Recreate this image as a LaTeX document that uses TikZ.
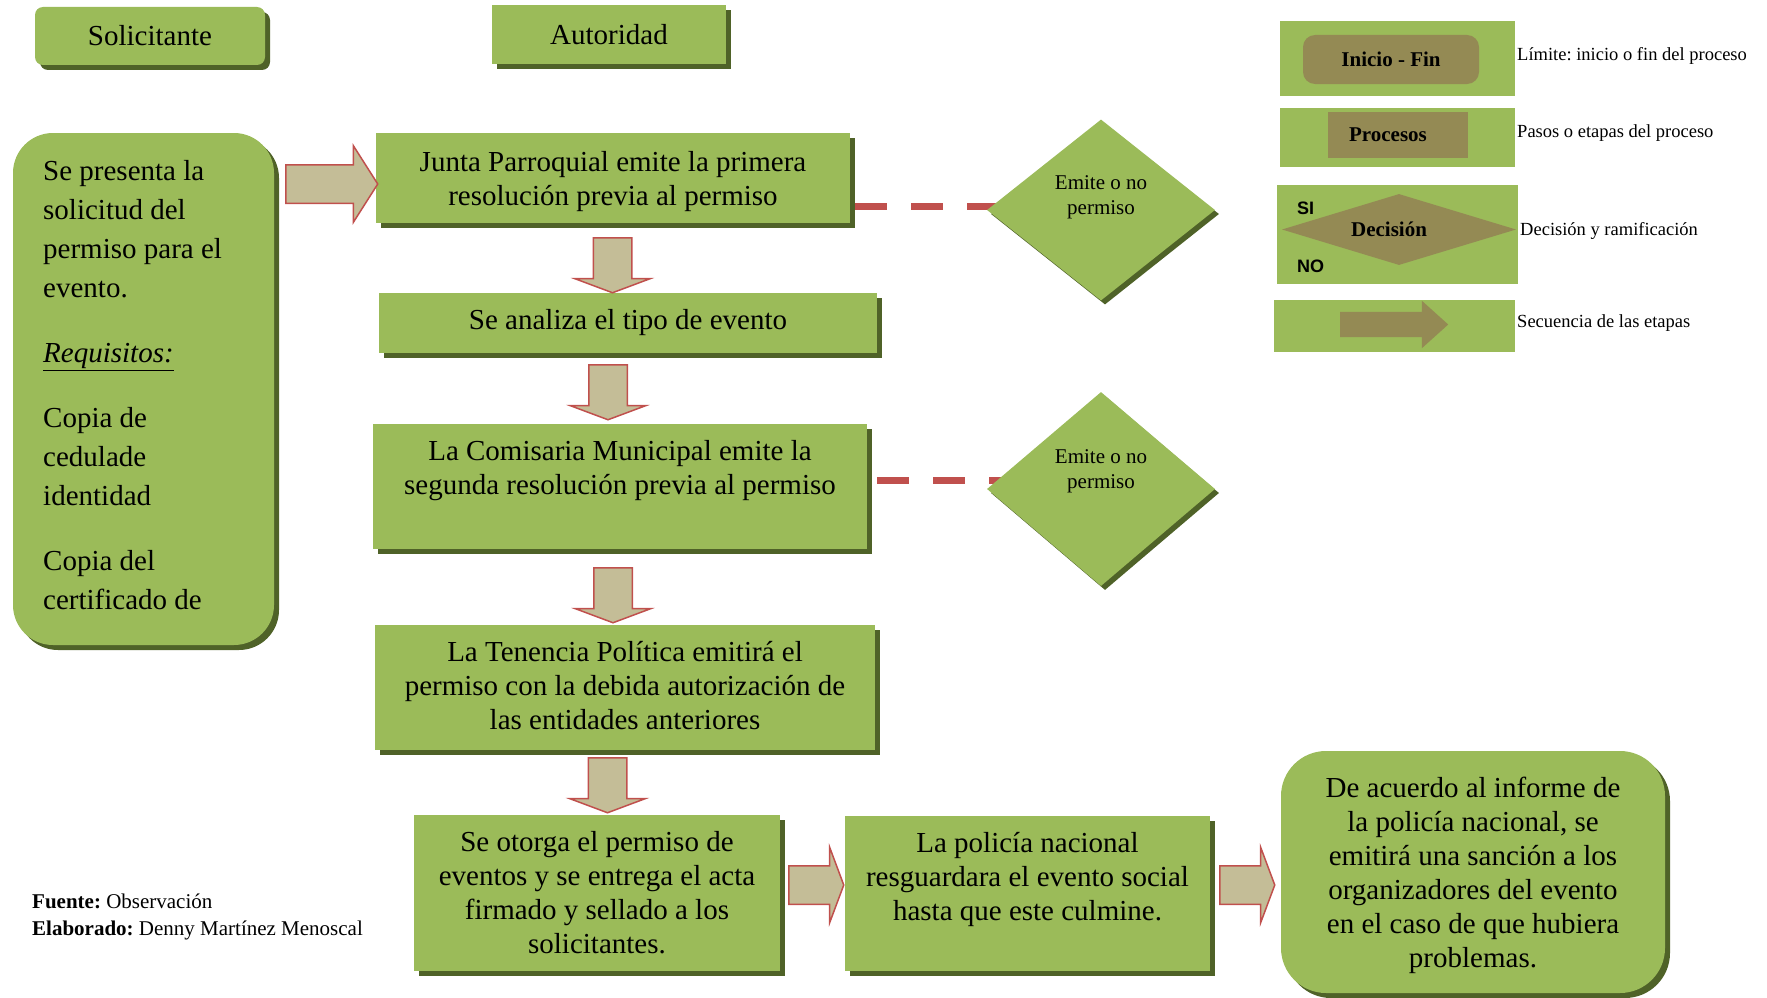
\documentclass[tikz,border=0pt]{standalone}
\usepackage{fontspec}
\setmainfont{Liberation Serif}
\newfontfamily\legendsans{Liberation Sans}
\usetikzlibrary{shapes.geometric,shapes.arrows,shadows}
\definecolor{boxgreen}{HTML}{9BBB59}
\definecolor{shadowgreen}{HTML}{4F6228}
\definecolor{arrowtan}{HTML}{C4BD97}
\definecolor{arrowred}{HTML}{C0504D}
\definecolor{olivekey}{HTML}{948A54}
\pgfdeclarelayer{bg}
\pgfsetlayers{bg,main}
\frenchspacing

\begin{document}
\begin{tikzpicture}[x=1pt, y=-1pt,
  boxtext/.style={font=\fontsize{29}{34}\selectfont, align=center, inner sep=0pt},
  box/.style={boxtext, fill=boxgreen,
    general shadow={shadow xshift=5pt, shadow yshift=-5pt, fill=shadowgreen}},
  roundbox/.style={box, rounded corners=#1},
  decision/.style={diamond, fill=boxgreen, inner sep=0pt,
    general shadow={shadow xshift=4pt, shadow yshift=-4pt, fill=shadowgreen}},
  dectext/.style={font=\fontsize{21}{25}\selectfont, align=center, inner sep=0pt},
  stepar/.style={single arrow, fill=arrowtan, draw=arrowred, line width=1.5pt,
    inner xsep=0pt, inner ysep=18.5pt, minimum width=74pt, single arrow head extend=18.5pt,
    single arrow tip angle=139, minimum height=55pt, anchor=tail},
  stepdown/.style={stepar, rotate=-90},
  link/.style={draw=arrowred, line width=7pt, dash pattern=on 32pt off 24pt},
  keybox/.style={fill=boxgreen, inner sep=0pt},
  keyshape/.style={fill=olivekey, inner sep=0pt, font=\fontsize{21}{25}\selectfont\bfseries},
  keytext/.style={font=\fontsize{18.5}{22}\selectfont, anchor=west, inner sep=0pt},
  keysans/.style={font=\legendsans\fontsize{18}{20}\selectfont\bfseries, anchor=west, inner sep=0pt},
  note/.style={font=\fontsize{21}{27}\selectfont, anchor=base west, inner sep=0pt}]
\useasboundingbox (0,0) rectangle (1767,998);

\node[roundbox=8pt, minimum width=230pt, minimum height=58pt] (solicitante) at (150,36) {Solicitante};
\node[box, minimum width=234pt, minimum height=59pt] (autoridad) at (609,35) {Autoridad};

\node[roundbox=40pt, minimum width=261pt, minimum height=512pt] (solicitud) at (143.5,389) {};
\node[font=\fontsize{29}{39}\selectfont, align=left, anchor=north west, inner sep=0pt]
  (requisitos) at (43,160) {Se presenta la\\solicitud del\\permiso para el\\evento.\\[26pt]\underline{\textit{Requisitos:}}\\[26pt]Copia de\\cedulade\\identidad\\[26pt]Copia del\\certificado de};

\node[box, minimum width=474pt, minimum height=90pt] (junta) at (613,178) {};
\node[boxtext] (juntatext) at ([yshift=-4pt]junta.center) {Junta Parroquial emite la primera\\resolución previa al permiso};
\node[box, minimum width=498pt, minimum height=60pt] (analiza) at (628,323) {Se analiza el tipo de evento};
\node[box, minimum width=494pt, minimum height=125pt] (comisaria) at (620,486.5) {};
\node[boxtext] (comisariatext) at ([yshift=16pt]comisaria.center) {La Comisaria Municipal emite la\\segunda resolución previa al permiso};
\node[box, minimum width=500pt, minimum height=125pt] (tenencia) at (625,687.5) {};
\node[boxtext] (tenenciatext) at ([yshift=2pt]tenencia.center) {La Tenencia Política emitirá el\\permiso con la debida autorización de\\las entidades anteriores};
\node[box, minimum width=366pt, minimum height=156pt] (otorga) at (597,893) {Se otorga el permiso de\\eventos y se entrega el acta\\firmado y sellado a los\\solicitantes.};
\node[box, minimum width=365pt, minimum height=155pt] (policia) at (1027.5,893.5) {};
\node[boxtext] (policiatext) at ([yshift=14pt]policia.center) {La policía nacional\\resguardara el evento social\\hasta que este culmine.};
\node[roundbox=45pt, minimum width=384pt, minimum height=242pt] (sancion) at (1473,872) {};
\node[boxtext] (sanciontext) at ([yshift=-3pt]sancion.center) {De acuerdo al informe de\\la policía nacional, se\\emitirá una sanción a los\\organizadores del evento\\en el caso de que hubiera\\problemas.};

\node[decision, minimum width=228pt, minimum height=181pt] (emite1) at (1101,210) {};
\node[dectext] (emite1text) at ([yshift=13pt]emite1.center) {Emite o no\\permiso};
\node[decision, minimum width=228pt, minimum height=194pt] (emite2) at (1101,489) {};
\node[dectext] (emite2text) at ([yshift=18pt]emite2.center) {Emite o no\\permiso};

\begin{pgfonlayer}{bg}
\draw[link] ([xshift=5pt, yshift=4pt]junta.east |- emite1.west) -- ([yshift=4pt]emite1.center |- emite1.west);
\draw[link] ([xshift=10pt, yshift=9pt]comisaria.east |- emite2.west) -- ([yshift=9pt]emite2.center |- emite2.west);
\end{pgfonlayer}

\node[stepar, inner ysep=18.5pt, minimum width=75pt, single arrow head extend=19pt, single arrow tip angle=115, minimum height=92pt] (entrada) at (285,184) {};
\node[stepdown] (paso1) at (612.5,237) {};
\node[stepdown] (paso2) at (608,364) {};
\node[stepdown] (paso3) at (613,567) {};
\node[stepdown] (paso4) at (607.5,757) {};
\node[stepar] (paso5) at (788,885) {};
\node[stepar] (paso6) at (1219,885) {};

\node[keybox, minimum width=235pt, minimum height=75pt] (keylimite) at (1397.5,58.5) {};
\node[keyshape, rounded corners=12pt, minimum width=176pt, minimum height=49pt] (keyinicio) at (1391,59.5) {Inicio - Fin};
\node[keytext] (limite) at (1517,56) {Límite: inicio o fin del proceso};

\node[keybox, minimum width=235pt, minimum height=59pt] (keypasos) at (1397.5,137.5) {};
\node[keyshape, minimum width=140pt, minimum height=46pt] (keyprocesos) at (1398,135) {Procesos\hspace*{20pt}};
\node[keytext] (pasos) at (1517,133) {Pasos o etapas del proceso};

\node[keybox, minimum width=241pt, minimum height=99pt] (keydecision) at (1397.5,234.5) {};
\node[keyshape, diamond, aspect=3.3, minimum width=234pt, minimum height=71pt] (keyrombo) at (1399,229.5) {Decisión\hspace*{20pt}};
\node[keysans] (keysi) at (1297,208) {SI};
\node[keysans] (keyno) at (1297,266) {NO};
\node[keytext] (ramificacion) at (1520,231) {Decisión y ramificación};

\node[keybox, minimum width=241pt, minimum height=52pt] (keysecuencia) at (1394.5,326) {};
\node[single arrow, fill=olivekey, inner xsep=0pt, inner ysep=12.5pt, minimum width=47pt, single arrow head extend=11pt,
  single arrow tip angle=84, minimum height=108pt, anchor=tail] (keyflecha) at (1340,324.5) {};
\node[keytext] (secuencia) at (1517,323) {Secuencia de las etapas};

\node[note] (fuente) at (32,908) {\textbf{Fuente:} Observación};
\node[note] (elaborado) at (32,935) {\textbf{Elaborado:} Denny Martínez Menoscal};
\end{tikzpicture}
\end{document}
